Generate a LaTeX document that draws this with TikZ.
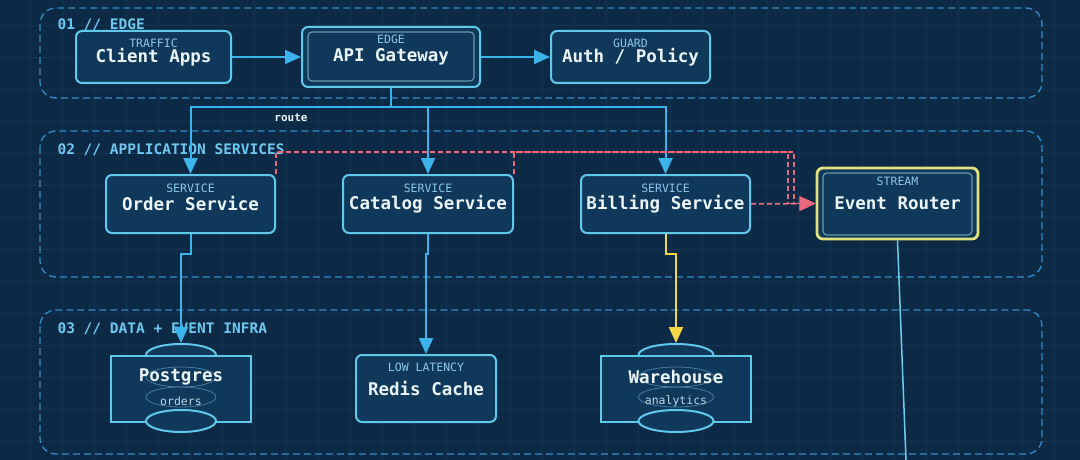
\documentclass[tikz,border=0pt]{standalone}
\usepackage{fontspec}
\setmainfont{DejaVu Sans Mono}
\usetikzlibrary{arrows.meta,shapes.geometric}
\definecolor{night}{RGB}{12,42,69}
\definecolor{gridc}{RGB}{20,53,82}
\definecolor{panel}{RGB}{15,56,90}
\definecolor{frame}{RGB}{95,200,235}
\definecolor{wire}{RGB}{60,180,235}
\definecolor{zoneblue}{RGB}{50,140,200}
\definecolor{zonetext}{RGB}{110,200,240}
\definecolor{ink}{RGB}{235,245,250}
\definecolor{tagblue}{RGB}{140,200,235}
\definecolor{notegrey}{RGB}{190,215,230}
\definecolor{alert}{RGB}{235,105,125}
\definecolor{amber}{RGB}{245,215,70}
\definecolor{routerframe}{RGB}{225,225,125}
\definecolor{innerframe}{RGB}{110,150,170}
\definecolor{faint}{RGB}{70,125,160}
\definecolor{tapline}{RGB}{110,205,235}
\begin{document}
\begin{tikzpicture}[x=1pt,y=-1pt,
    gridline/.style={draw=gridc,line width=0.6pt},
    zone/.style={draw=zoneblue,line width=1.3pt,dash pattern=on 7pt off 4pt,rounded corners=16pt},
    zonelabel/.style={anchor=west,text=zonetext,font=\fontsize{14.5}{16}\selectfont\bfseries},
    svc/.style={draw=frame,fill=panel,line width=2pt,rounded corners=6pt,inner sep=0pt,
      text=ink,font=\fontsize{17.5}{20}\selectfont\bfseries},
    db/.style={draw=frame,fill=panel,line width=2pt,inner sep=0pt},
    lid/.style={ellipse,draw=frame,fill=panel,line width=2pt,inner sep=0pt,minimum height=22pt},
    ring/.style={ellipse,draw=faint,line width=0.8pt,inner sep=0pt,minimum height=20pt},
    title/.style={text=ink,font=\fontsize{17.5}{20}\selectfont\bfseries},
    tag/.style={text=tagblue,font=\fontsize{11.5}{13}\selectfont},
    note/.style={text=notegrey,font=\fontsize{11.5}{13}\selectfont},
    flow/.style={draw=wire,line width=2pt,-{Triangle[length=16pt,width=14pt]}},
    hot/.style={draw=amber,line width=2pt,-{Triangle[length=16pt,width=14pt]}},
    event/.style={draw=alert,line width=1.8pt,dash pattern=on 5pt off 3pt,-{Triangle[length=16pt,width=14pt]}},
  ]
  \useasboundingbox (0,0) rectangle (1080,460);
  \fill[night] (0,0) rectangle (1080,460);
  \foreach \gx in {30,62,...,1080} \draw[gridline] (\gx,0) -- (\gx,460);
  \foreach \gy in {25,57,...,460} \draw[gridline] (0,\gy) -- (1080,\gy);

  % zones
  \draw[zone] (40,8) rectangle (1042,98);
  \draw[zone] (40,131) rectangle (1042,277);
  \draw[zone] (40,310) rectangle (1042,454);
  \node[zonelabel] (edgezone) at (54,25) {01 // EDGE};
  \node[zonelabel] (appzone) at (54,150) {02 // APPLICATION SERVICES};
  \node[zonelabel] (datazone) at (54,329) {03 // DATA + EVENT INFRA};

  % edge
  \node[svc,minimum width=155pt,minimum height=52pt] (client) at (153.5,57) {Client Apps};
  \node[tag] (clienttag) at ([yshift=-13pt]client.north) {TRAFFIC};
  \node[svc,minimum width=178pt,minimum height=60pt] (gw) at (391,57) {API Gateway};
  \draw[innerframe,line width=1.2pt,rounded corners=4pt] (308,32) rectangle (474,81);
  \node[tag] (gwtag) at ([yshift=-13pt]gw.north) {EDGE};
  \node[svc,minimum width=159pt,minimum height=52pt] (auth) at (630.5,57) {Auth / Policy};
  \node[tag] (authtag) at ([yshift=-13pt]auth.north) {GUARD};

  % services
  \node[svc,minimum width=169pt,minimum height=58pt] (order) at (190.5,204) {Order Service};
  \node[tag] (ordertag) at ([yshift=-14pt]order.north) {SERVICE};
  \node[svc,minimum width=170pt,minimum height=58pt] (catalog) at (428,204) {Catalog Service};
  \node[tag] (catalogtag) at ([yshift=-14pt]catalog.north) {SERVICE};
  \node[svc,minimum width=169pt,minimum height=58pt] (billing) at (665.5,204) {Billing Service};
  \node[tag] (billingtag) at ([yshift=-14pt]billing.north) {SERVICE};
  \node[svc,draw=routerframe,line width=2.8pt,minimum width=161pt,minimum height=71pt] (router) at (897.5,203.5) {Event Router};
  \draw[innerframe,line width=1.2pt,rounded corners=4pt] (823,173) rectangle (972,235);
  \node[tag] (routertag) at ([yshift=-15pt]router.north) {STREAM};

  % data
  \node[lid,minimum width=70pt] (pgtop) at (181,355) {};
  \node[db,minimum width=140pt,minimum height=66pt] (pg) at (181,389) {};
  \node[lid,minimum width=70pt] (pgbot) at (181,421) {};
  \node[ring,minimum width=70pt] (pgring) at (181,377) {};
  \node[ring,minimum width=70pt] (pgring2) at (181,397) {};
  \node[title] (pgname) at (181,377) {Postgres};
  \node[note] (pgnote) at (181,401) {orders};

  \node[svc,minimum width=140pt,minimum height=67pt] (redis) at (426,388.5) {Redis Cache};
  \node[tag] (redistag) at ([yshift=-13pt]redis.north) {LOW LATENCY};

  \node[lid,minimum width=75pt] (whtop) at (676,355) {};
  \node[db,minimum width=150pt,minimum height=66pt] (wh) at (676,389) {};
  \node[lid,minimum width=75pt] (whbot) at (676,421) {};
  \node[ring,minimum width=75pt] (whring) at (676,377) {};
  \node[ring,minimum width=75pt] (whring2) at (676,397) {};
  \node[title] (whname) at (676,377) {Warehouse};
  \node[note] (whnote) at (676,401) {analytics};

  % connectors
  \draw[flow] (client) -- (gw);
  \draw[flow] (gw) -- (auth);
  \draw[draw=wire,line width=2pt] (gw.south) -- (gw.south |- 0,107) coordinate (bus);
  \draw[flow] (bus) -| (order.north);
  \draw[flow] (bus) -| (catalog.north);
  \draw[flow] (bus) -| (billing.north);
  \node[text=ink,font=\fontsize{11}{13}\selectfont\bfseries] (routelbl) at (291,118) {route};

  \draw[flow] (order.south) -- ++(0,20) -| (pgtop.north);
  \draw[flow] (catalog.south) -- ++(0,20) -| (redis.north);
  \draw[hot] (billing.south) -- ++(0,20) -| (whtop.north);

  \draw[event] (order.north east) |- (788,152) |- (router.west);
  \draw[event] (catalog.north east) |- (794,152) |- (router.west);
  \draw[event] (billing) -- (router);

  \coordinate (sink) at (906,460);
  \draw[tapline,line width=1.5pt] (router.south) -- (sink);
\end{tikzpicture}
\end{document}
